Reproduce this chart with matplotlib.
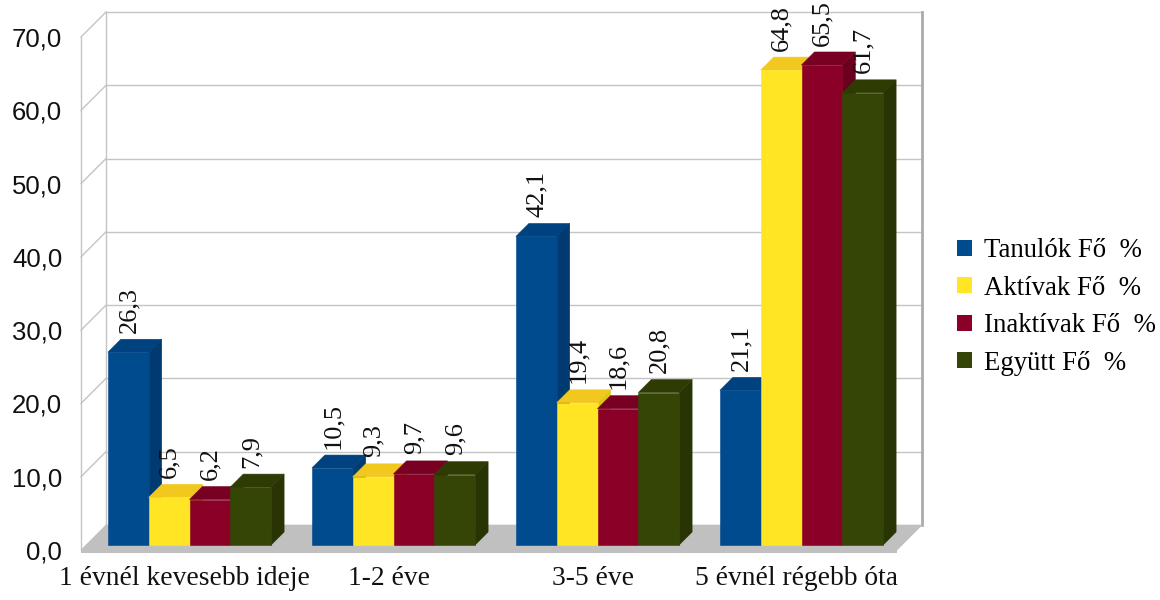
import matplotlib.pyplot as plt
from matplotlib.patches import Polygon, Patch

categories = ['1 évnél kevesebb ideje', '1-2 éve', '3-5 éve', '5 évnél régebb óta']
series = ['Tanulók Fő  %', 'Aktívak Fő  %', 'Inaktívak Fő  %', 'Együtt Fő  %']
tanulok = [26.3, 10.5, 42.1, 21.1]
aktivak = [6.5, 9.3, 19.4, 64.8]
inaktivak = [6.2, 9.7, 18.6, 65.5]
egyutt = [7.9, 9.6, 20.8, 61.7]
yticks = [0, 10, 20, 30, 40, 50, 60, 70]

front_colors = ['#004A8E', '#FFE524', '#8A0027', '#354506']
top_colors = ['#00427F', '#F2C81E', '#780022', '#2E3C04']
side_colors = ['#003A70', '#E0C41C', '#6A001E', '#283403']
grid_col = '#C4C4C4'

SERIF = 'Liberation Serif'
SANS = 'Liberation Sans'

# pixels per data unit, used to fake the oblique depth
SX = 40.8
SY = 513 / 70.0
WALL = 25     # depth of the back wall (px)
BAR_Z = 5     # bars stand this far behind the front edge
BAR_D = 13    # bar depth
GAP = 5       # group spacing in bar widths


def sh(x, y, z):
    return x + z / SX, y + z / SY


fig = plt.figure(figsize=(11.6, 6), dpi=100)
ax = fig.add_axes([81 / 1160, 50 / 600, (897 - 81) / 1160, 513 / 600])
xlo = (81 - 184.5) / SX
xhi = (897 - 184.5) / SX
ax.set_xlim(xlo, xhi)
ax.set_ylim(0, 70)
ax.patch.set_visible(False)
for s in ax.spines.values():
    s.set_visible(False)

# back wall
bl = sh(xlo, 0, WALL)
br = sh(xhi, 0, WALL)
tl = sh(xlo, 70, WALL)
tr = sh(xhi, 70, WALL)
ax.add_patch(Polygon([bl, br, tr, tl], closed=True, facecolor='white',
                     edgecolor='none', clip_on=False, zorder=0))
for v in yticks[1:]:
    a = sh(xlo, v, WALL)
    b = sh(xhi, v, WALL)
    ax.plot([a[0], b[0]], [a[1], b[1]], color=grid_col, lw=1.0, clip_on=False, zorder=1)
    c = sh(xlo, v, 0)
    ax.plot([c[0], a[0]], [c[1], a[1]], color=grid_col, lw=1.0, clip_on=False, zorder=1)
# wall edges
ax.plot([xlo, xlo], [0, 70], color=grid_col, lw=1.0, clip_on=False, zorder=1)
ax.plot([bl[0], tl[0]], [bl[1], tl[1]], color=grid_col, lw=1.0, clip_on=False, zorder=1)
ax.plot([br[0], tr[0]], [br[1], tr[1]], color='#ABABAB', lw=2.0, clip_on=False, zorder=1)

# floor
fl = sh(xlo, 0, 0)
fr = sh(xhi, 0, 0)
ax.add_patch(Polygon([fl, fr, br, bl], closed=True, facecolor='#C0C0C0',
                     edgecolor='#C0C0C0', lw=0.5, clip_on=False, zorder=1.5))
ax.add_patch(Polygon([(xlo, 0), (xhi, 0), (xhi, -0.35), (xlo, -0.35)], closed=True,
                     facecolor='#C0C0C0', edgecolor='none', clip_on=False, zorder=1.5))

data = [tanulok, aktivak, inaktivak, egyutt]
dz = sh(0, 0, BAR_Z)
for g in range(len(categories)):
    for k, vals in enumerate(data):
        v = vals[g]
        x0 = g * GAP + k - 2
        base = 3 + k * 3
        side = [sh(x0 + 1, 0, BAR_Z), sh(x0 + 1, 0, BAR_Z + BAR_D),
                sh(x0 + 1, v, BAR_Z + BAR_D), sh(x0 + 1, v, BAR_Z)]
        top = [sh(x0, v, BAR_Z), sh(x0 + 1, v, BAR_Z),
               sh(x0 + 1, v, BAR_Z + BAR_D), sh(x0, v, BAR_Z + BAR_D)]
        ax.add_patch(Polygon(side, closed=True, facecolor=side_colors[k],
                             edgecolor=side_colors[k], lw=0.4, clip_on=False, zorder=base))
        ax.add_patch(Polygon(top, closed=True, facecolor=top_colors[k],
                             edgecolor=top_colors[k], lw=0.4, clip_on=False, zorder=base + 1))
        ax.bar(x0 + dz[0], v, width=1, bottom=dz[1], align='edge',
               color=front_colors[k], edgecolor=front_colors[k], lw=0.4,
               clip_on=False, zorder=base + 2)
        ax.annotate(f'{v:.1f}'.replace('.', ','), xy=(x0 + 0.5 + dz[0], v + dz[1]),
                    xytext=(0.5, 14), textcoords='offset points', rotation=90,
                    ha='center', va='bottom', family=SERIF, fontsize=19,
                    color='#111111', annotation_clip=False, zorder=20)
    ax.text(g * GAP, -4.77, categories[g], ha='center', va='baseline',
            family=SERIF, fontsize=19.8, color='#111111')

ax.set_xticks([])
ax.set_yticks(yticks)
ax.set_yticklabels([f'{v:.1f}'.replace('.', ',') for v in yticks],
                   family=SANS, fontsize=18.5, color='#111111')
ax.tick_params(axis='y', length=0, pad=13.5)

handles = [Patch(facecolor=c, edgecolor='none') for c in front_colors]
fig.legend(handles, series, loc='center left', bbox_to_anchor=(957 / 1160, 1 - 307 / 600),
           frameon=False, prop={'family': SERIF, 'size': 19.3},
           handlelength=0.55, handleheight=0.55, handletextpad=0.45,
           labelspacing=0.47, borderpad=0, borderaxespad=0)

fig.savefig('out.png', dpi=100)
